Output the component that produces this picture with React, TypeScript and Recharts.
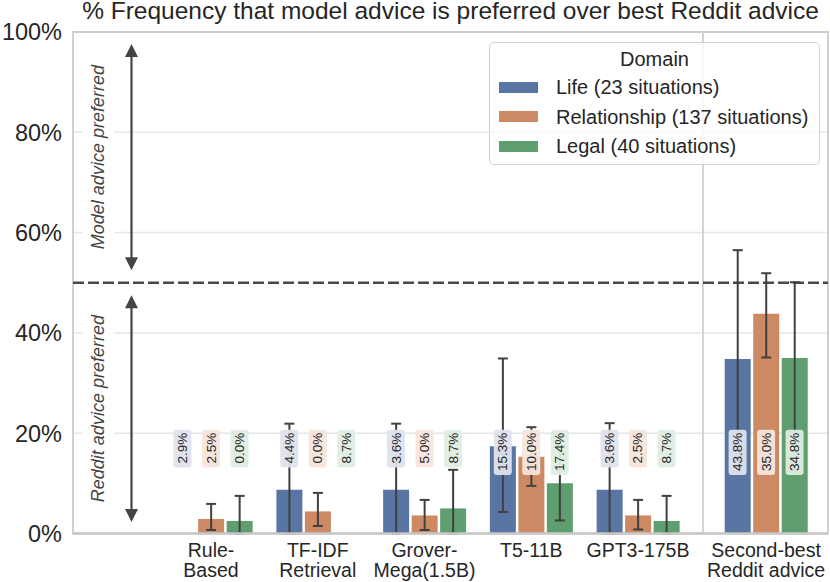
import React from 'react';
import {
  ComposedChart,
  Bar,
  Scatter,
  XAxis,
  YAxis,
  CartesianGrid,
  ReferenceLine,
  ReferenceArea,
  ErrorBar,
  Legend,
} from 'recharts';

// ---------------- data ----------------
const categories = ['Rule-Based', 'TF-IDF Retrieval', 'Grover-Mega(1.5B)', 'T5-11B', 'GPT3-175B', 'Second-best Reddit advice'];
const tickLines = [
  ['Rule-', 'Based'],
  ['TF-IDF', 'Retrieval'],
  ['Grover-', 'Mega(1.5B)'],
  ['T5-11B'],
  ['GPT3-175B'],
  ['Second-best', 'Reddit advice'],
];
const seriesNames = ['Life (23 situations)', 'Relationship (137 situations)', 'Legal (40 situations)'];

const lifeValues = [0, 8.7, 8.7, 17.4, 8.7, 34.8];
const relValues = [2.9, 4.4, 3.6, 15.3, 3.6, 43.8];
const legalValues = [2.5, 0, 5.0, 10.0, 2.5, 35.0];

const lifeLow: (number | null)[] = [null, 0, 0, 4.3, 0, 13.0];
const lifeHigh: (number | null)[] = [null, 21.9, 21.9, 34.9, 22.0, 56.5];
const relLow: (number | null)[] = [0.7, 1.5, 0.7, 9.5, 0.8, 35.1];
const relHigh: (number | null)[] = [5.9, 8.1, 6.7, 21.2, 6.7, 51.9];
const legalLow: (number | null)[] = [0, null, 0, 2.6, 0, 20.0];
const legalHigh: (number | null)[] = [7.5, null, 12.7, 17.5, 7.5, 50.1];

// text printed in the small boxes (blue / orange / green box)
const lifeBoxText = [2.9, 4.4, 3.6, 15.3, 3.6, 43.8];
const relBoxText = [2.5, 0.0, 5.0, 10.0, 2.5, 35.0];
const legalBoxText = [0.0, 8.7, 8.7, 17.4, 8.7, 34.8];

const yTicks = [0, 20, 40, 60, 80, 100];

// ---------------- layout ----------------
const FONT = '"Liberation Sans", Arial, Helvetica, sans-serif';
const W = 830;
const H = 582;
const MARGIN = { top: 32, right: 2, bottom: 0, left: 0 };
const Y_AXIS_W = 73;
const X_AXIS_H = 48.5;
const PLOT_TOP = MARGIN.top;
const PLOT_H = H - MARGIN.top - MARGIN.bottom - X_AXIS_H;
const PLOT_BOTTOM = PLOT_TOP + PLOT_H;
const LABEL_LEVEL = 20; // boxes hang just below the 20% gridline

const X_POS = [0, 1, 2, 3, 4, 5.2];
const X_DOMAIN: [number, number] = [-1.293, 5.78];
const SEPARATOR_X = 4.609;
const ARROW_X = -0.745;
const BAR_SIZE = 26;
const BAR_GAP = 2.5;

const COLORS = ['#5975a4', '#cc8963', '#5f9e6e'];
const BOX_FILLS = ['#dfe3ee', '#f6e5dc', '#deede2'];

const err = (v: number, lo: number | null, hi: number | null) =>
  lo == null || hi == null ? null : [Math.max(0, v - lo), Math.max(0, hi - v)];

const table = categories.map((c, i) => ({
  name: c,
  pos: X_POS[i],
  life: lifeValues[i],
  rel: relValues[i],
  legal: legalValues[i],
  lifeErr: err(lifeValues[i], lifeLow[i], lifeHigh[i]),
  relErr: err(relValues[i], relLow[i], relHigh[i]),
  legalErr: err(legalValues[i], legalLow[i], legalHigh[i]),
  boxes: [lifeBoxText[i], relBoxText[i], legalBoxText[i]],
  level: LABEL_LEVEL,
}));

const charW = (ch: string) => {
  if (ch >= '0' && ch <= '9') return 0.556;
  if (ch === '.') return 0.278;
  if (ch === '%') return 0.889;
  return 0.556;
};
const textLen = (s: string, fs: number) => s.split('').reduce((a, c) => a + charW(c), 0) * fs;

const BoxGroup = (props: any) => {
  const { cx, cy, payload } = props;
  if (cx == null || cy == null || !payload) return null;
  const fs = 13.5;
  const step = BAR_SIZE + BAR_GAP;
  return (
    <g>
      {(payload.boxes as number[]).map((v, i) => {
        const x = Number(cx) + (i - 1) * step;
        const text = `${v.toFixed(1)}%`;
        const len = textLen(text, fs);
        return (
          <g key={i} transform={`translate(${x},${Number(cy) - 0.5}) rotate(-90)`}>
            <rect x={-len - 4} y={-9} width={len + 7} height={18} rx={3} ry={3} fill={BOX_FILLS[i]} fillOpacity={0.95} />
            <text x={0} y={0} textAnchor="end" dominantBaseline="central" fontSize={fs} fontFamily={FONT} fill="#262626">
              {text}
            </text>
          </g>
        );
      })}
    </g>
  );
};

const makeArrow = (label: string) => (props: any) => {
  const { x1, y1, x2, y2 } = props;
  if (x1 == null) return null;
  const x = Number(x1);
  const top = Math.min(Number(y1), Number(y2));
  const bottom = Math.max(Number(y1), Number(y2));
  const head = 13;
  const hw = 6.5;
  const mid = (top + bottom) / 2;
  const boxLen = label.length * 8.6 + 8;
  return (
    <g>
      <g transform={`translate(${x - 33},${mid}) rotate(-90)`}>
        <rect x={-boxLen / 2} y={-16} width={boxLen} height={32} fill="#ffffff" />
        <text x={0} y={0} textAnchor="middle" dominantBaseline="central" fontSize={18} fontStyle="italic" fontFamily={FONT} fill="#444444">
          {label}
        </text>
      </g>
      <line x1={x} y1={top + head - 1} x2={x} y2={bottom - head + 1} stroke="#444444" strokeWidth={2.2} />
      <polygon points={`${x},${top} ${x - hw},${top + head} ${x + hw},${top + head}`} fill="#444444" />
      <polygon points={`${x},${bottom} ${x - hw},${bottom - head} ${x + hw},${bottom - head}`} fill="#444444" />
    </g>
  );
};

const XTick = (props: any) => {
  const { x, payload } = props;
  const idx = X_POS.indexOf(Number(payload?.value));
  if (idx < 0) return null;
  const lines = tickLines[idx];
  return (
    <text x={x} textAnchor="middle" fontSize={19.5} fontFamily={FONT} fill="#262626">
      {lines.map((l, i) => (
        <tspan key={i} x={x} y={PLOT_BOTTOM + 23 + i * 20}>
          {l}
        </tspan>
      ))}
    </text>
  );
};

const LegendBox = (props: any) => {
  const payload = (props.payload || [])
    .filter((p: any) => seriesNames.indexOf(p.value) >= 0)
    .sort((a: any, b: any) => seriesNames.indexOf(a.value) - seriesNames.indexOf(b.value));
  return (
    <div
      style={{
        width: 331,
        height: 123,
        boxSizing: 'border-box',
        border: '1.5px solid #d0d0d0',
        borderRadius: 5,
        background: 'rgba(255,255,255,0.8)',
        fontFamily: FONT,
        fontSize: 20,
        color: '#262626',
        position: 'relative',
      }}
    >
      <div style={{ position: 'absolute', left: 0, right: 0, top: 4, textAlign: 'center', lineHeight: '24px' }}>Domain</div>
      {payload.map((p: any, i: number) => (
        <div key={i} style={{ position: 'absolute', left: 0, top: 32 + i * 29.5, height: 24, display: 'flex', alignItems: 'center' }}>
          <span style={{ display: 'inline-block', marginLeft: 9, width: 39, height: 11, background: p.color }} />
          <span style={{ marginLeft: 18, lineHeight: '24px', whiteSpace: 'nowrap' }}>{p.value}</span>
        </div>
      ))}
    </div>
  );
};

export default function App() {
  return (
    <div style={{ position: 'absolute', left: 0, top: 0, width: W, height: H, background: '#ffffff', overflow: 'hidden' }}>
      <div
        style={{
          position: 'absolute',
          left: Y_AXIS_W,
          width: W - Y_AXIS_W - MARGIN.right,
          top: -3.5,
          textAlign: 'center',
          fontFamily: FONT,
          fontSize: 24.5,
          color: '#262626',
          whiteSpace: 'nowrap',
          lineHeight: '28px',
        }}
      >
        % Frequency that model advice is preferred over best Reddit advice
      </div>
      <ComposedChart width={W} height={H} data={table} margin={MARGIN} barGap={BAR_GAP}>
        <CartesianGrid horizontal vertical={false} stroke="#e6e6e6" strokeWidth={1.5} />
        <XAxis
          type="number"
          dataKey="pos"
          domain={X_DOMAIN}
          ticks={X_POS}
          allowDataOverflow
          interval={0}
          height={X_AXIS_H}
          tick={<XTick />}
          tickLine={false}
          tickSize={0}
          axisLine={{ stroke: '#c8c8c8', strokeWidth: 2.5 }}
        />
        <YAxis
          type="number"
          domain={[0, 100]}
          ticks={yTicks}
          tickFormatter={(v: number) => `${v}%`}
          width={Y_AXIS_W}
          axisLine={false}
          tickLine={false}
          tickSize={0}
          tickMargin={11}
          tick={{ fontSize: 23.5, fill: '#262626', fontFamily: FONT }}
        />
        <ReferenceArea x1={X_DOMAIN[0]} x2={X_DOMAIN[1]} y1={0} y2={100} fill="none" stroke="#cccccc" strokeWidth={1.8} />
        <ReferenceLine x={SEPARATOR_X} stroke="#d4d4d4" strokeWidth={2} />
        <ReferenceLine y={50} stroke="#484848" strokeWidth={2.5} strokeDasharray="11 4" />
        <ReferenceLine
          segment={[
            { x: ARROW_X, y: 97.6 },
            { x: ARROW_X, y: 52.5 },
          ]}
          shape={makeArrow('Model advice preferred')}
        />
        <ReferenceLine
          segment={[
            { x: ARROW_X, y: 47.5 },
            { x: ARROW_X, y: 2.3 },
          ]}
          shape={makeArrow('Reddit advice preferred')}
        />
        <Bar dataKey="life" name={seriesNames[0]} fill={COLORS[0]} barSize={BAR_SIZE} isAnimationActive={false}>
          <ErrorBar dataKey="lifeErr" width={5} stroke="#404040" strokeWidth={2} direction="y" />
        </Bar>
        <Bar dataKey="rel" name={seriesNames[1]} fill={COLORS[1]} barSize={BAR_SIZE} isAnimationActive={false}>
          <ErrorBar dataKey="relErr" width={5} stroke="#404040" strokeWidth={2} direction="y" />
        </Bar>
        <Bar dataKey="legal" name={seriesNames[2]} fill={COLORS[2]} barSize={BAR_SIZE} isAnimationActive={false}>
          <ErrorBar dataKey="legalErr" width={5} stroke="#404040" strokeWidth={2} direction="y" />
        </Bar>
        <Scatter dataKey="level" legendType="none" shape={<BoxGroup />} isAnimationActive={false} />
        <Legend
          layout="horizontal"
          align="center"
          verticalAlign="middle"
          content={<LegendBox />}
          wrapperStyle={{ position: 'absolute', left: 489, top: 42, width: 331, height: 123 }}
        />
      </ComposedChart>
    </div>
  );
}
